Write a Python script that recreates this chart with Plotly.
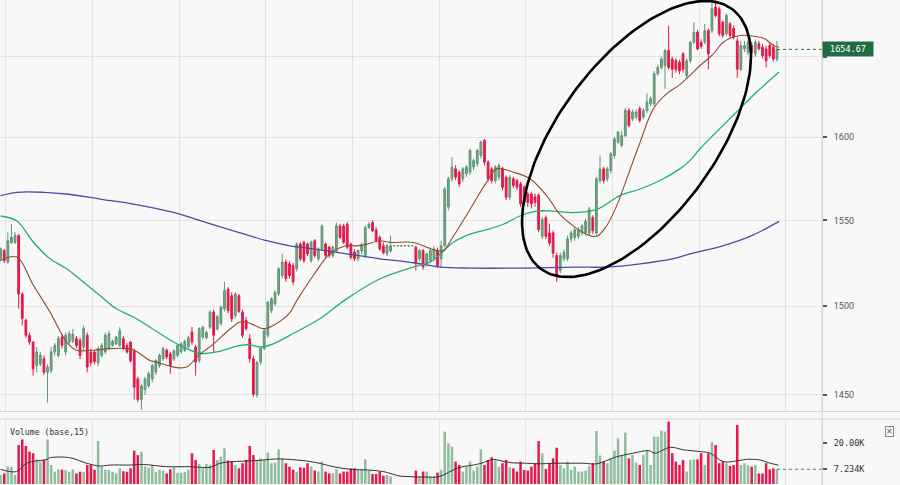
import math
import plotly.graph_objects as go

# ---------------- data (hourly candles) ----------------
open_ = [1527.4, 1532.2, 1525.5, 1537.0, 1537.0, 1541.0, 1507.0, 1492.0, 1483.4, 1479.6,
         1466.4, 1467.3, 1470.2, 1462.6, 1463.6, 1474.0, 1472.0, 1482.4, 1474.0, 1479.6,
         1480.0, 1481.5, 1480.6, 1476.8, 1483.4, 1474.0, 1474.0, 1468.0, 1472.0, 1474.0,
         1476.0, 1477.7, 1478.5, 1477.7, 1481.5, 1477.7, 1479.6, 1474.6, 1458.9, 1447.5,
         1453.0, 1455.0, 1458.9, 1462.6, 1466.4, 1470.2, 1475.0, 1472.9, 1470.0, 1472.1,
         1474.0, 1475.0, 1477.0, 1485.3, 1476.8, 1469.2, 1482.4, 1482.0, 1488.1, 1496.6,
         1487.0, 1490.0, 1498.5, 1509.8, 1506.0, 1494.7, 1506.0, 1496.6, 1491.9, 1481.5,
         1470.2, 1450.0, 1468.3, 1475.9, 1483.4, 1497.5, 1501.3, 1507.1, 1517.7, 1525.5,
         1524.5, 1523.5, 1521.6, 1536.0, 1537.1, 1536.0, 1526.4, 1538.0, 1527.4, 1533.2,
         1536.0, 1534.2, 1529.3, 1532.2, 1546.7, 1546.7, 1547.7, 1536.0, 1531.4, 1527.4,
         1532.0, 1529.3, 1545.8, 1548.7, 1544.5, 1540.0, 1535.0, 1530.3, 1532.0, 1535.0,
         1535.0, 1535.0, 1535.0, 1535.0, 1535.0, 1534.2, 1527.4, 1532.2, 1524.5, 1526.4,
         1527.4, 1532.2, 1527.4, 1535.0, 1557.9, 1574.8, 1580.8, 1578.8, 1574.8, 1577.8,
         1578.8, 1581.9, 1583.9, 1588.9, 1598.0, 1584.9, 1580.8, 1573.8, 1575.8, 1580.8,
         1575.8, 1563.7, 1574.8, 1573.8, 1571.8, 1569.8, 1565.7, 1565.7, 1564.0, 1565.0,
         1540.6, 1551.6, 1542.6, 1542.6, 1529.3, 1520.6, 1527.4, 1527.4, 1539.0, 1540.0,
         1540.6, 1542.6, 1542.6, 1542.6, 1551.6, 1542.6, 1573.8, 1580.8, 1574.8, 1579.8,
         1588.9, 1597.0, 1595.0, 1601.0, 1616.5, 1611.4, 1612.4, 1617.6, 1612.4, 1616.5,
         1620.7, 1620.7, 1639.3, 1643.3, 1644.5, 1653.9, 1648.6, 1647.5, 1646.5, 1651.8,
         1638.2, 1647.5, 1659.2, 1665.6, 1659.0, 1659.2, 1666.6, 1666.6, 1681.6, 1680.5,
         1672.0, 1664.6, 1670.9, 1668.0, 1660.0, 1642.1, 1655.0, 1652.8, 1657.1, 1651.8,
         1658.2, 1656.0, 1655.0, 1657.1, 1656.0, 1648.5]
high = [1534.0, 1533.0, 1542.9, 1547.7, 1543.0, 1542.0, 1508.0, 1493.0, 1485.0, 1480.0,
        1476.8, 1474.0, 1472.0, 1467.0, 1476.8, 1479.0, 1483.0, 1484.0, 1485.0, 1486.0,
        1487.0, 1483.0, 1482.0, 1489.0, 1485.0, 1476.0, 1475.0, 1477.0, 1479.0, 1485.0,
        1486.0, 1481.0, 1483.0, 1488.0, 1483.0, 1479.0, 1480.0, 1476.0, 1460.0, 1456.0,
        1460.0, 1463.0, 1467.5, 1470.0, 1473.0, 1477.0, 1476.0, 1474.0, 1475.5, 1478.5,
        1479.5, 1481.0, 1483.0, 1488.1, 1478.0, 1488.0, 1489.0, 1486.0, 1497.5, 1498.0,
        1495.0, 1500.5, 1513.9, 1511.0, 1508.0, 1508.0, 1507.0, 1498.0, 1494.0, 1484.0,
        1472.0, 1469.0, 1477.0, 1487.0, 1503.0, 1505.0, 1509.0, 1522.5, 1530.3, 1527.0,
        1526.0, 1525.0, 1537.0, 1537.0, 1538.0, 1537.0, 1538.0, 1539.0, 1534.0, 1547.7,
        1537.0, 1535.0, 1535.0, 1548.8, 1548.0, 1548.0, 1549.0, 1537.0, 1533.0, 1533.0,
        1537.0, 1547.0, 1549.0, 1550.0, 1546.0, 1541.0, 1537.0, 1536.0, 1541.0, 1535.0,
        1535.0, 1535.0, 1535.0, 1535.0, 1535.0, 1535.0, 1533.0, 1533.0, 1531.0, 1534.0,
        1535.0, 1534.0, 1538.0, 1570.0, 1576.0, 1587.9, 1583.0, 1580.0, 1582.0, 1583.0,
        1593.0, 1587.0, 1593.0, 1598.0, 1599.0, 1586.0, 1582.0, 1583.0, 1584.0, 1582.0,
        1577.0, 1577.0, 1576.0, 1575.0, 1573.0, 1571.0, 1567.0, 1567.0, 1566.0, 1566.0,
        1552.0, 1553.0, 1548.0, 1544.0, 1531.0, 1531.0, 1533.0, 1541.0, 1544.0, 1546.0,
        1546.0, 1548.0, 1551.0, 1558.0, 1553.0, 1576.0, 1588.9, 1582.0, 1582.0, 1591.0,
        1600.0, 1604.0, 1604.0, 1618.0, 1618.0, 1617.0, 1617.0, 1619.0, 1618.0, 1626.9,
        1625.0, 1641.0, 1645.0, 1650.0, 1655.0, 1669.8, 1650.0, 1649.0, 1648.0, 1653.0,
        1649.0, 1660.0, 1672.0, 1667.0, 1661.0, 1670.9, 1668.0, 1684.7, 1686.0, 1682.0,
        1673.0, 1677.5, 1672.0, 1670.0, 1662.0, 1660.0, 1660.0, 1661.0, 1659.0, 1661.0,
        1660.0, 1658.0, 1657.0, 1659.0, 1658.0, 1660.0]
low = [1526.0, 1525.0, 1524.5, 1536.0, 1536.0, 1498.5, 1489.0, 1482.0, 1478.0, 1460.7,
       1462.6, 1466.0, 1461.0, 1445.8, 1462.0, 1472.0, 1471.0, 1476.0, 1472.0, 1478.0,
       1479.0, 1476.0, 1470.0, 1475.0, 1462.6, 1466.0, 1467.0, 1466.0, 1471.0, 1473.0,
       1475.0, 1477.0, 1478.0, 1477.0, 1475.0, 1473.0, 1468.0, 1447.5, 1446.0, 1441.9,
       1450.0, 1454.0, 1457.0, 1461.0, 1465.0, 1469.0, 1470.0, 1461.8, 1469.0, 1471.0,
       1473.0, 1474.0, 1476.0, 1478.0, 1460.7, 1468.0, 1481.0, 1481.0, 1487.0, 1474.0,
       1486.0, 1489.0, 1497.0, 1496.0, 1491.0, 1493.0, 1496.0, 1482.0, 1486.0, 1468.0,
       1449.0, 1448.5, 1467.0, 1475.0, 1482.0, 1496.0, 1500.0, 1506.0, 1516.0, 1514.0,
       1516.0, 1512.0, 1520.0, 1526.0, 1525.0, 1529.0, 1525.0, 1528.0, 1526.0, 1532.0,
       1528.0, 1528.0, 1528.0, 1531.0, 1539.0, 1536.0, 1533.0, 1527.0, 1526.0, 1526.0,
       1530.0, 1528.0, 1545.0, 1543.0, 1537.0, 1532.0, 1530.0, 1529.0, 1531.0, 1535.0,
       1535.0, 1535.0, 1535.0, 1535.0, 1535.0, 1520.6, 1526.0, 1521.0, 1523.0, 1525.0,
       1526.0, 1522.0, 1522.0, 1534.0, 1556.0, 1573.0, 1574.0, 1570.0, 1573.0, 1576.0,
       1577.0, 1580.0, 1582.0, 1587.0, 1583.0, 1573.0, 1572.0, 1572.0, 1574.0, 1568.0,
       1562.0, 1562.0, 1569.0, 1568.0, 1558.0, 1559.0, 1558.0, 1557.0, 1558.0, 1543.0,
       1539.0, 1539.0, 1535.0, 1528.0, 1514.0, 1519.0, 1526.0, 1526.0, 1537.0, 1538.0,
       1539.0, 1541.0, 1541.0, 1541.0, 1542.0, 1541.0, 1572.0, 1572.0, 1573.0, 1578.0,
       1587.0, 1596.0, 1594.0, 1600.0, 1606.0, 1610.0, 1611.0, 1609.0, 1611.0, 1615.0,
       1619.0, 1619.0, 1638.0, 1642.0, 1630.0, 1642.0, 1636.8, 1640.0, 1639.0, 1640.0,
       1636.0, 1646.0, 1658.0, 1654.0, 1655.0, 1658.0, 1642.1, 1665.0, 1675.0, 1663.0,
       1662.0, 1663.0, 1662.0, 1661.0, 1636.8, 1641.0, 1653.0, 1651.0, 1651.0, 1650.0,
       1654.0, 1649.0, 1643.3, 1649.0, 1647.0, 1647.0]
close = [1533.2, 1526.4, 1538.0, 1540.0, 1541.0, 1507.0, 1493.0, 1483.4, 1479.6, 1464.5,
         1474.0, 1472.1, 1462.6, 1465.5, 1474.0, 1477.7, 1481.5, 1477.7, 1483.4, 1484.3,
         1484.0, 1477.7, 1472.0, 1487.2, 1465.5, 1468.0, 1468.6, 1475.9, 1477.7, 1483.4,
         1484.3, 1480.0, 1482.4, 1486.0, 1476.0, 1474.0, 1469.0, 1454.2, 1447.5, 1455.0,
         1458.9, 1461.8, 1466.4, 1469.2, 1472.1, 1475.9, 1471.2, 1466.4, 1474.6, 1477.7,
         1478.6, 1480.0, 1482.0, 1479.6, 1468.3, 1487.2, 1488.0, 1485.0, 1496.6, 1483.4,
         1494.0, 1499.4, 1508.9, 1497.5, 1492.8, 1507.0, 1497.0, 1483.4, 1487.2, 1470.2,
         1450.4, 1468.0, 1475.9, 1486.1, 1502.3, 1504.2, 1508.0, 1521.6, 1525.5, 1515.8,
         1517.7, 1514.0, 1536.0, 1527.4, 1526.4, 1530.3, 1537.1, 1529.3, 1533.2, 1546.7,
         1529.3, 1529.3, 1534.2, 1546.7, 1540.0, 1537.1, 1534.2, 1528.3, 1527.4, 1532.2,
         1535.0, 1545.8, 1547.7, 1543.8, 1538.0, 1533.2, 1531.0, 1535.0, 1535.0, 1535.0,
         1535.0, 1535.0, 1535.0, 1535.0, 1535.0, 1524.5, 1532.2, 1522.6, 1530.3, 1532.2,
         1533.2, 1523.5, 1535.0, 1568.7, 1574.8, 1581.9, 1575.8, 1571.7, 1580.8, 1581.9,
         1591.9, 1585.9, 1591.9, 1597.0, 1584.9, 1574.8, 1573.8, 1581.9, 1582.9, 1569.7,
         1563.7, 1575.8, 1570.8, 1569.8, 1559.7, 1560.7, 1560.7, 1559.7, 1560.7, 1544.5,
         1550.6, 1540.6, 1536.6, 1530.7, 1518.0, 1529.3, 1531.3, 1539.0, 1542.6, 1544.5,
         1544.5, 1546.7, 1549.4, 1556.5, 1543.8, 1574.8, 1580.8, 1573.8, 1580.8, 1589.9,
         1599.0, 1603.1, 1601.0, 1616.5, 1607.2, 1615.5, 1615.5, 1610.3, 1616.5, 1621.7,
         1623.8, 1639.3, 1643.3, 1648.6, 1653.9, 1643.3, 1642.1, 1642.1, 1641.1, 1642.1,
         1647.5, 1659.2, 1665.6, 1655.0, 1656.5, 1666.6, 1651.8, 1680.5, 1676.2, 1664.6,
         1663.5, 1676.2, 1663.5, 1662.3, 1642.1, 1657.0, 1657.1, 1659.2, 1652.8, 1659.2,
         1655.0, 1650.7, 1647.5, 1650.7, 1648.5, 1654.67]
volume = [4400, 5200, 8500, 8400, 4400, 19100, 21900, 18700, 15900, 15100,
          12100, 11000, 11800, 21900, 9300, 6000, 7200, 7000, 6800, 6000,
          7200, 5200, 6000, 6000, 9300, 9300, 7000, 21100, 8500, 7000,
          7000, 6000, 5200, 7700, 6300, 6000, 7700, 16400, 14200, 15900,
          8700, 8100, 9300, 6000, 7000, 6600, 5200, 7200, 8100, 5500,
          5500, 6000, 7000, 15100, 11800, 9800, 7700, 9800, 9300, 16700,
          11800, 13400, 17500, 11500, 11000, 9300, 7700, 10200, 11800, 18700,
          14200, 11800, 12600, 11800, 15400, 10200, 10500, 17000, 12600, 10200,
          8500, 7000, 6000, 8200, 8000, 10200, 8500, 6600, 6100, 11000,
          6100, 5200, 5200, 7200, 5200, 6100, 6100, 7700, 7700, 6900,
          7200, 12100, 6600, 4900, 4900, 6100, 4100, 4400, 3600, 0,
          0, 0, 0, 0, 0, 6600, 3600, 6100, 6100, 3600,
          3600, 5600, 6900, 25700, 19900, 18300, 11000, 9300, 6100, 8500,
          11000, 6600, 8500, 17000, 9300, 11800, 13100, 11800, 8500, 10200,
          11800, 8200, 7700, 6100, 11000, 6900, 6600, 8500, 10200, 21100,
          15100, 7400, 10200, 12600, 17800, 9300, 7700, 11000, 6900, 8500,
          6100, 6100, 6600, 8800, 10200, 26000, 14000, 11000, 10200, 12600,
          16400, 22400, 14200, 25200, 12600, 14200, 10500, 9300, 14200, 16400,
          9300, 23200, 23200, 26200, 25700, 30600, 15100, 11000, 9300, 11800,
          6100, 11800, 12100, 12100, 15100, 9300, 15100, 20500, 19100, 10200,
          11000, 10200, 8800, 9300, 29000, 9300, 10200, 9300, 8500, 9300,
          5200, 5200, 10200, 7200, 7700, 7234]

# moving averages, sampled along the bar index
ma_fast_x = [0, 4.5, 9, 13.7, 18.3, 21, 25.7, 30.3, 35, 37, 41.4, 43.2, 48, 51.5, 54.8, 59,
             62.6, 66.3, 68, 70.4, 72.8, 75.5, 80, 82, 86.6, 91.2, 95.8, 98.6, 101.4, 105.1,
             107.8, 114.3, 118, 120.8, 122.6, 125.4, 130, 134.6, 137.4, 142, 146.6, 151.2,
             154.9, 158.6, 162.3, 165.1, 167.8, 170.6, 173.4, 177.1, 180.8, 184.5, 188.1,
             190.9, 193.7, 197.4, 200.1, 204.8, 208.5, 211.7, 214, 215.6]
ma_fast_y = [1526.4, 1528.4, 1512.3, 1496.6, 1479.6, 1475, 1475, 1475.9, 1475.9, 1475,
             1469.2, 1468.3, 1465.5, 1465.5, 1472.1, 1478.6, 1485.3, 1491, 1491, 1489,
             1487.2, 1489, 1496, 1503.2, 1517.7, 1530.3, 1535, 1535, 1536, 1538, 1537,
             1537, 1534.2, 1532.2, 1532.2, 1540.6, 1556.5, 1572.8, 1580.8, 1578.8, 1574.8,
             1564.7, 1553.5, 1546.7, 1541.7, 1540.6, 1546.7, 1558.6, 1574.8, 1597, 1617.6,
             1626.9, 1632.5, 1638.3, 1644.5, 1651.8, 1659.2, 1663.4, 1663, 1661.3, 1657.1, 1656]
ma_mid_x = [0, 4.5, 9.1, 13.7, 18.3, 22.9, 27.5, 32.1, 36.8, 41.4, 47.9, 52.5, 55.2, 59.8,
            66.3, 69, 71.8, 75.5, 80.1, 88.4, 95.8, 105.1, 114.3, 118.9, 121.7, 125.4, 130,
            134.6, 139.2, 143.8, 148.4, 153, 158.6, 165.1, 171.5, 177.1, 182.6, 188.1, 190.9,
            193.7, 203.8, 209.4, 215.6]
ma_mid_y = [1552.6, 1549.6, 1537.1, 1527.4, 1521.6, 1513.9, 1506.1, 1498.5, 1493.8, 1488,
            1479.6, 1475, 1473.1, 1474, 1477.7, 1478, 1476.8, 1478.6, 1483.4, 1492.8, 1504.2,
            1515.8, 1522.6, 1525.5, 1530, 1537.1, 1541.9, 1544.5, 1547.7, 1552.6, 1555.5,
            1555.5, 1554.6, 1556.5, 1564.7, 1568.7, 1573.8, 1580.8, 1585.8, 1593, 1615.5,
            1627.9, 1640.4]
ma_slow_x = [0, 4.5, 12, 18.3, 27.5, 36.8, 47.9, 57, 66.3, 73.7, 80.1, 86.6, 95.8, 105.1,
             114.3, 121.7, 130, 143.8, 158.6, 167.8, 177.1, 186, 190.9, 200, 208, 215.6]
ma_slow_y = [1564.7, 1566.7, 1566.7, 1565.7, 1562.7, 1559.7, 1554.7, 1548.7, 1542.6, 1538,
             1535, 1533.2, 1530.3, 1527.4, 1525.1, 1522.6, 1522, 1522, 1522.6, 1522.6,
             1524.5, 1527.4, 1530.3, 1535, 1541, 1549.4]
vol_ma_x = [0, 4.4, 7.2, 12.8, 13.7, 19.2, 23.8, 27.5, 30.3, 35.8, 39.5, 46, 52.4, 55.2, 58,
            60.8, 64.4, 69, 72.8, 76.4, 82, 87.5, 92.1, 96.8, 101.4, 106, 110.6, 113.4, 118,
            120.8, 122.6, 125.4, 127.2, 130.9, 133.2, 136.4, 138.3, 141.1, 145.7, 149.4,
            153.1, 156.8, 161.4, 165.1, 170.6, 175.2, 179.5, 181.2, 185.4, 189.1, 193.7,
            196.5, 200.1, 203.8, 206.6, 210.3, 213.1, 215.4]
vol_ma_y = [7200, 6100, 10200, 12100, 12900, 12900, 10200, 8800, 9300, 9300, 9600, 8500,
            8500, 8200, 8200, 10200, 11000, 11300, 11800, 12300, 11800, 10500, 8500, 7200,
            6900, 6100, 3900, 3600, 3400, 3400, 4400, 6900, 8200, 9300, 10200, 12100, 11500,
            10500, 10200, 9900, 10200, 10200, 10200, 9900, 13400, 15100, 16400, 15100, 18000,
            16800, 15900, 15100, 11000, 11300, 12100, 11800, 10200, 9300]

price_ticks = [1450, 1500, 1550, 1600, 1650]
price_tick_text = ["1450", "1500", "1550", "1600", ""]
last_price = 1654.67
last_price_text = "1654.67"
last_volume = 7234
volume_ticks = [20000, last_volume]
volume_tick_text = ["20.00K", "7.234K"]

# ---------------- geometry / styles ----------------
W, H = 900, 485
PLOT_W = 822
PX_PER_BAR = 3.611
X_MIN = -0.166
X_MAX = X_MIN + PLOT_W / PX_PER_BAR
Y_TOP_LOG, Y_BOT_LOG = 3.2269, 3.1587
PRICE_H = 411
price_dom = [(H - 411) / H, 1.0]
vol_dom = [0.0, (H - 419) / H]

UP_FILL, UP_LINE = "#76a888", "#5e9472"
DN_FILL, DN_LINE = "#e3194b", "#e3194b"
VOL_UP, VOL_DN = "#8fbd9e", "#e5194c"
BG = "#f8f8f8"
GRID = "#e3e3e3"
MONO = "DejaVu Sans Mono"

idx = list(range(len(close)))
vol_colors = [VOL_UP if c >= o else VOL_DN for o, c in zip(open_, close)]

fig = go.Figure()

fig.add_trace(go.Candlestick(
    x=idx, open=open_, high=high, low=low, close=close,
    increasing=dict(fillcolor=UP_FILL, line=dict(color=UP_LINE, width=1)),
    decreasing=dict(fillcolor=DN_FILL, line=dict(color=DN_LINE, width=1)),
    whiskerwidth=0, xaxis="x", yaxis="y", hoverinfo="skip", showlegend=False))

fig.add_trace(go.Scatter(x=ma_slow_x, y=ma_slow_y, mode="lines",
                         line=dict(color="#4d4aa3", width=1.3, shape="spline"),
                         xaxis="x", yaxis="y", hoverinfo="skip"))
fig.add_trace(go.Scatter(x=ma_mid_x, y=ma_mid_y, mode="lines",
                         line=dict(color="#22ad7c", width=1.3, shape="spline"),
                         xaxis="x", yaxis="y", hoverinfo="skip"))
fig.add_trace(go.Scatter(x=ma_fast_x, y=ma_fast_y, mode="lines",
                         line=dict(color="#8e4f2f", width=1.1, shape="spline"),
                         xaxis="x", yaxis="y", hoverinfo="skip"))

# ellipse annotation (defined in pixel space, converted to data space)
ecx, ecy, ea, eb, edeg = 636.5, 139.0, 161.3, 78.3, 53.7
th = math.radians(edeg)
ex, ey = [], []
for k in range(181):
    t = 2 * math.pi * k / 180
    px = ecx + ea * math.cos(th) * math.cos(t) - eb * math.sin(th) * math.sin(t)
    py = ecy - (ea * math.sin(th) * math.cos(t) + eb * math.cos(th) * math.sin(t))
    ex.append(X_MIN + px / PX_PER_BAR)
    ey.append(10 ** (Y_TOP_LOG - py * (Y_TOP_LOG - Y_BOT_LOG) / PRICE_H))
fig.add_trace(go.Scatter(x=ex, y=ey, mode="lines", line=dict(color="#000000", width=2.6),
                         xaxis="x", yaxis="y", hoverinfo="skip"))

# last price dotted guide
fig.add_trace(go.Scatter(x=[idx[-1], X_MAX], y=[last_price, last_price], mode="lines",
                         line=dict(color="#226c45", width=1, dash="dot"),
                         xaxis="x", yaxis="y", hoverinfo="skip"))

# volume
fig.add_trace(go.Bar(x=idx, y=volume, marker=dict(color=vol_colors, line=dict(width=0)),
                     xaxis="x2", yaxis="y2", hoverinfo="skip"))
fig.add_trace(go.Scatter(x=vol_ma_x, y=vol_ma_y, mode="lines",
                         line=dict(color="#333333", width=1, shape="spline"),
                         xaxis="x2", yaxis="y2", hoverinfo="skip"))
fig.add_trace(go.Scatter(x=[idx[-1], X_MAX], y=[last_volume, last_volume], mode="lines",
                         line=dict(color="#3c8a5c", width=1, dash="dot"),
                         xaxis="x2", yaxis="y2", hoverinfo="skip"))

xcommon = dict(range=[X_MIN, X_MAX], showticklabels=False, ticks="",
               tickmode="linear", tick0=25.45, dtick=24,
               showgrid=True, gridcolor=GRID, gridwidth=1, zeroline=False,
               showline=False, fixedrange=True)

fig.update_layout(
    width=W, height=H,
    margin=dict(l=0, r=W - PLOT_W, t=0, b=0),
    paper_bgcolor=BG, plot_bgcolor=BG,
    showlegend=False, bargap=0.3,
    xaxis=dict(domain=[0, 1], anchor="y", rangeslider=dict(visible=False), **xcommon),
    xaxis2=dict(domain=[0, 1], anchor="y2", matches="x", rangeslider=dict(visible=False), **xcommon),
    yaxis=dict(domain=price_dom, type="log", range=[Y_BOT_LOG, Y_TOP_LOG], side="right",
               tickmode="array", tickvals=price_ticks, ticktext=price_tick_text,
               ticks="outside", ticklen=4, tickcolor="#555", tickwidth=1.5,
               tickfont=dict(family="Roboto", size=9, color="#555"), ticklabelstandoff=5,
               showgrid=True, gridcolor=GRID, zeroline=False,
               showline=True, linecolor="#d4d4d4", linewidth=1, fixedrange=True),
    yaxis2=dict(domain=vol_dom, range=[-490, 31900], side="right",
                tickmode="array", tickvals=volume_ticks, ticktext=volume_tick_text,
                ticks="outside", ticklen=4, tickcolor="#555", tickwidth=1.5,
                tickfont=dict(family=MONO, size=8.5, color="#333"), ticklabelstandoff=5,
                showgrid=False, zeroline=False,
                showline=True, linecolor="#d4d4d4", linewidth=1, fixedrange=True),
    shapes=[
        dict(type="line", xref="paper", yref="paper", x0=0, x1=W / PLOT_W,
             y0=(H - 411.5) / H, y1=(H - 411.5) / H, line=dict(color="#d4d4d4", width=1)),
        dict(type="line", xref="paper", yref="paper", x0=0, x1=W / PLOT_W,
             y0=(H - 419) / H, y1=(H - 419) / H, line=dict(color="#d4d4d4", width=1)),
        dict(type="line", xref="paper", yref="paper", x0=1, x1=1, y0=0, y1=1,
             line=dict(color="#d4d4d4", width=1)),
    ],
    annotations=[
        dict(x=1, xref="paper", y=math.log10(last_price), yref="y", xanchor="left",
             yanchor="middle", showarrow=False, text="\u00a0" + last_price_text + "\u00a0",
             font=dict(family=MONO, size=8.5, color="#ffffff"),
             bgcolor="#226c45", borderpad=2, xshift=0),
        dict(x=8 / PLOT_W, xref="paper", y=(H - 432) / H, yref="paper", xanchor="left",
             yanchor="middle", showarrow=False, text="Volume (base,15)",
             font=dict(family=MONO, size=8.2, color="#333")),
        dict(x=889.5 / PLOT_W, xref="paper", y=(H - 431.5) / H, yref="paper",
             xanchor="center", yanchor="middle", showarrow=False, text="×",
             font=dict(family="DejaVu Sans", size=8, color="#555"),
             bordercolor="#888", borderwidth=1, borderpad=0),
    ],
)

fig.write_html("out.html", config={"displayModeBar": False},
               post_script="document.body.style.margin='0px';document.body.style.background='#f8f8f8';")
